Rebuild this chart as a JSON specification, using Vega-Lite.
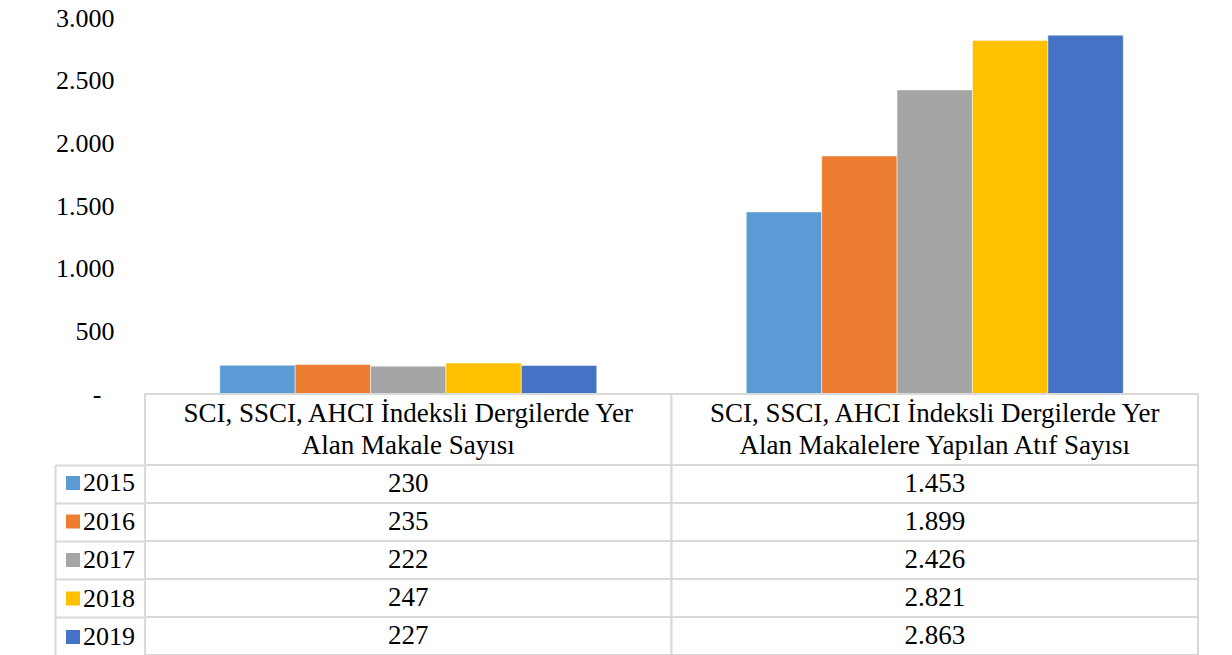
{
  "$schema": "https://vega.github.io/schema/vega-lite/v6.json",
  "background": "white",
  "padding": {"left": 54, "top": 5, "right": 0, "bottom": 0},
  "bounds": "flush",
  "config": {
    "view": {"stroke": null}
  },
  "data": {"values": [
    {"category": "SCI, SSCI, AHCI İndeksli Dergilerde Yer\nAlan Makale Sayısı", "year": "2015", "value": 230},
    {"category": "SCI, SSCI, AHCI İndeksli Dergilerde Yer\nAlan Makale Sayısı", "year": "2016", "value": 235},
    {"category": "SCI, SSCI, AHCI İndeksli Dergilerde Yer\nAlan Makale Sayısı", "year": "2017", "value": 222},
    {"category": "SCI, SSCI, AHCI İndeksli Dergilerde Yer\nAlan Makale Sayısı", "year": "2018", "value": 247},
    {"category": "SCI, SSCI, AHCI İndeksli Dergilerde Yer\nAlan Makale Sayısı", "year": "2019", "value": 227},
    {"category": "SCI, SSCI, AHCI İndeksli Dergilerde Yer\nAlan Makalelere Yapılan Atıf Sayısı", "year": "2015", "value": 1453},
    {"category": "SCI, SSCI, AHCI İndeksli Dergilerde Yer\nAlan Makalelere Yapılan Atıf Sayısı", "year": "2016", "value": 1899},
    {"category": "SCI, SSCI, AHCI İndeksli Dergilerde Yer\nAlan Makalelere Yapılan Atıf Sayısı", "year": "2017", "value": 2426},
    {"category": "SCI, SSCI, AHCI İndeksli Dergilerde Yer\nAlan Makalelere Yapılan Atıf Sayısı", "year": "2018", "value": 2821},
    {"category": "SCI, SSCI, AHCI İndeksli Dergilerde Yer\nAlan Makalelere Yapılan Atıf Sayısı", "year": "2019", "value": 2863}
  ]},
  "spacing": 0,
  "vconcat": [
    {
      "width": 1053,
      "height": 376,
      "mark": {"type": "bar", "stroke": "white", "strokeWidth": 0.5},
      "encoding": {
        "x": {"field": "category", "type": "nominal", "sort": null, "scale": {"paddingInner": 0.284, "paddingOuter": 0.142}, "axis": null},
        "xOffset": {"field": "year", "type": "nominal", "scale": {"paddingInner": 0, "paddingOuter": 0}},
        "y": {"field": "value", "type": "quantitative", "scale": {"domain": [0, 3000], "nice": false},
          "axis": {"values": [0, 500, 1000, 1500, 2000, 2500, 3000], "labelExpr": "datum.value == 0 ? '-' : replace(format(datum.value, ',d'), ',', '.')", "title": null, "grid": false, "domain": false, "ticks": false, "labelFont": "Liberation Serif", "labelFontSize": 26, "labelColor": "black",
            "labelPadding": {"condition": {"test": "datum.value == 0", "value": 44}, "value": 31}}},
        "color": {"field": "year", "type": "nominal",
          "scale": {"domain": ["2015", "2016", "2017", "2018", "2019"], "range": ["#5B9BD5", "#ED7D31", "#A5A5A5", "#FFC000", "#4472C4"]},
          "legend": {"title": null, "orient": "none", "legendX": -90, "legendY": 447, "padding": 5, "symbolType": "square", "symbolSize": 196, "symbolStrokeWidth": 0, "labelFont": "Liberation Serif", "labelFontSize": 26, "labelColor": "black", "labelOffset": -3, "rowPadding": 12.5}}
      }
    },
    {
      "width": 1053,
      "height": 71,
      "transform": [{"filter": "datum.year == '2015'"}],
      "encoding": {
        "x": {"field": "category", "type": "nominal", "sort": null, "scale": {"paddingInner": 0, "paddingOuter": 0}, "axis": null}
      },
      "layer": [
        {"mark": {"type": "rect", "fill": "white", "stroke": "#d9d9d9", "strokeWidth": 2}},
        {"mark": {"type": "text", "lineBreak": "\n", "font": "Liberation Serif", "fontSize": 27, "lineHeight": 32, "baseline": "middle", "dy": -16, "color": "black"},
          "encoding": {"text": {"field": "category"}}}
      ]
    },
    {
      "width": 1053,
      "height": 190,
      "encoding": {
        "x": {"field": "category", "type": "nominal", "sort": null, "scale": {"paddingInner": 0, "paddingOuter": 0}, "axis": null},
        "y": {"field": "year", "type": "nominal", "scale": {"paddingInner": 0, "paddingOuter": 0},
          "axis": {"title": null, "labels": false, "bandPosition": 0, "offset": 90, "domain": true, "domainColor": "#d9d9d9", "domainWidth": 2, "ticks": true, "tickSize": -90, "tickColor": "#d9d9d9", "tickWidth": 2}}
      },
      "layer": [
        {"mark": {"type": "rect", "fill": "white", "stroke": "#d9d9d9", "strokeWidth": 2}},
        {"mark": {"type": "text", "font": "Liberation Serif", "fontSize": 27, "baseline": "middle", "color": "black",
          "text": {"expr": "replace(format(datum.value, ',d'), ',', '.')"}}}
      ]
    }
  ]
}
